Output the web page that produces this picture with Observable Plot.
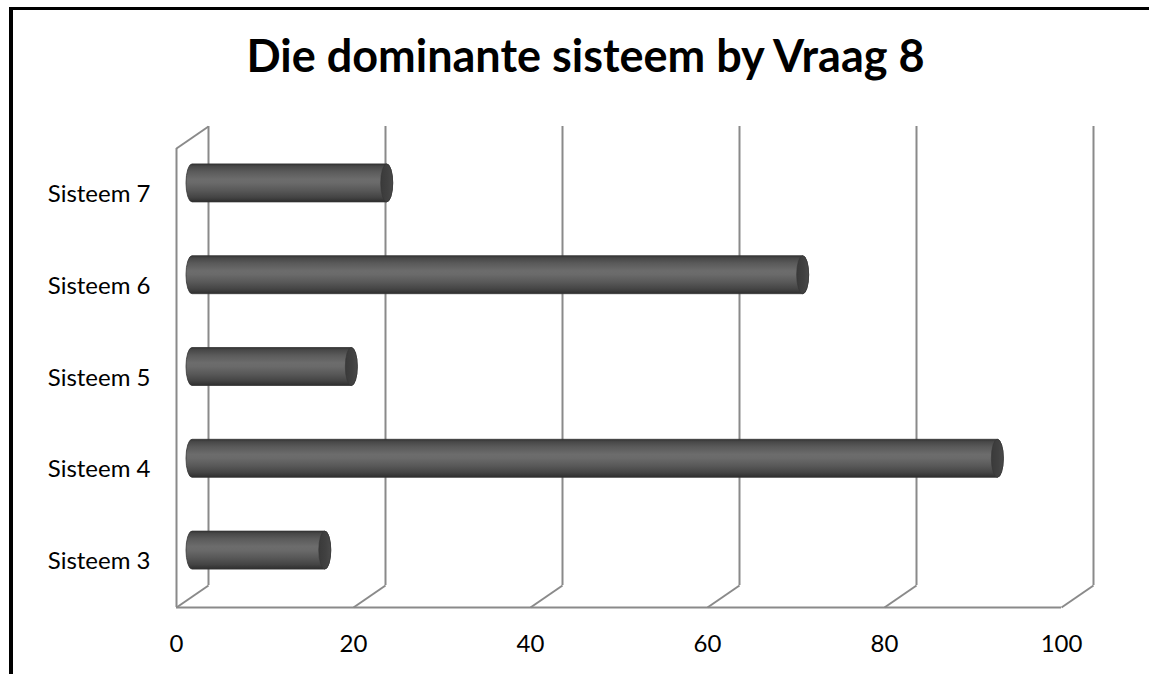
<!DOCTYPE html>
<html>
<head>
<meta charset="utf-8">
<script src="https://cdn.jsdelivr.net/npm/d3@7"></script>
<script src="https://cdn.jsdelivr.net/npm/@observablehq/plot@0.6"></script>
<style>
  html, body { margin: 0; padding: 0; background: #fff; }
  #wrap { position: relative; width: 1149px; height: 674px; overflow: hidden; background: #fff; font-family: Lato, "Open Sans", sans-serif; }
  #frame { position: absolute; left: 9px; top: 7px; width: 2000px; height: 2000px; border-left: 4px solid #000; border-top: 3px solid #000; box-sizing: border-box; }
  #title { position: absolute; left: 11px; top: 33px; width: 1149px; text-align: center; font-family: Lato, "Open Sans", sans-serif; font-weight: bold; font-size: 45px; line-height: 45px; color: #000; white-space: nowrap; }
  #chart { position: absolute; left: 0; top: 100px; }
</style>
</head>
<body>
<div id="wrap">
  <div id="frame"></div>
  <div id="title">Die dominante sisteem by Vraag 8</div>
  <div id="chart"></div>
</div>
<script>
// ---- data ----
const categories = ["Sisteem 3", "Sisteem 4", "Sisteem 5", "Sisteem 6", "Sisteem 7"];
const values = [15, 91, 18, 69, 22];
const xTicks = [0, 20, 40, 60, 80, 100];

// ---- layout ----
const W = 1149, H = 574;
const mL = 176, mR = 88, mT = 48, mB = 67;
const DEPTH_X = 32, DEPTH_Y = 22;      // 3D depth offset in px
const BAR_PX = 38, CAP_RX = 6;
const pxX = (W - mL - mR) / 100;
const pxY = (H - mT - mB) / categories.length;
const depthXu = DEPTH_X / pxX, depthYu = DEPTH_Y / pxY;
const halfBar = (BAR_PX / 2) / pxY;

const rows = categories.map((c, i) => ({category: c, value: values[i], i}));
const gridColor = "#8a8a8a";

const chart = Plot.plot({
  width: W, height: H,
  marginLeft: mL, marginRight: mR, marginTop: mT, marginBottom: mB,
  style: {fontFamily: "Lato, 'Open Sans', sans-serif", fontSize: "24px", color: "#000", background: "transparent"},
  x: {domain: [0, 100], ticks: xTicks, tickSize: 0, tickPadding: 27, label: null},
  y: {domain: [0, categories.length], ticks: categories.map((c, i) => i + 0.5),
      tickFormat: v => categories[Math.floor(v)], tickSize: 0, tickPadding: 26, label: null},
  marks: [
    // back wall gridlines
    Plot.ruleX(xTicks, {x: d => d, y1: 0, y2: categories.length, dx: DEPTH_X, dy: -DEPTH_Y, stroke: gridColor, strokeWidth: 2}),
    // floor front edge
    Plot.ruleY([0], {x1: 0, x2: 100, stroke: gridColor, strokeWidth: 2}),
    // floor diagonals
    Plot.link(xTicks, {x1: d => d, y1: 0, x2: d => d + depthXu, y2: depthYu, stroke: gridColor, strokeWidth: 2}),
    // left wall front edge + top diagonal
    Plot.ruleX([0], {y1: 0, y2: categories.length, stroke: gridColor, strokeWidth: 2}),
    Plot.link([0], {x1: 0, y1: categories.length, x2: depthXu, y2: categories.length + depthYu, stroke: gridColor, strokeWidth: 2}),
    // cylinder bodies
    Plot.rect(rows, {x1: 0, x2: "value", y1: d => d.i + 0.5 - halfBar, y2: d => d.i + 0.5 + halfBar,
      insetLeft: -CAP_RX, insetRight: -CAP_RX, rx: CAP_RX, ry: BAR_PX / 2,
      dx: DEPTH_X / 2, dy: -DEPTH_Y / 2, fill: "url(#cyl)", stroke: "#353535", strokeWidth: 0.8}),
    // cylinder end caps
    Plot.rect(rows, {x1: "value", x2: "value", y1: d => d.i + 0.5 - halfBar, y2: d => d.i + 0.5 + halfBar,
      insetLeft: -CAP_RX, insetRight: -CAP_RX, rx: CAP_RX, ry: BAR_PX / 2,
      dx: DEPTH_X / 2, dy: -DEPTH_Y / 2, fill: "url(#cap)", stroke: "#353535", strokeWidth: 0.6})
  ]
});

const svg = d3.select(chart);
const defs = svg.insert("defs", ":first-child");
const g1 = defs.append("linearGradient").attr("id", "cyl").attr("x1", 0).attr("y1", 0).attr("x2", 0).attr("y2", 1);
[[0, "#333333"], [0.06, "#474747"], [0.2, "#5a5a5a"], [0.4, "#6c6c6c"], [0.5, "#6a6a6a"], [0.7, "#585858"], [0.88, "#444444"], [1, "#2e2e2e"]]
  .forEach(([o, c]) => g1.append("stop").attr("offset", o).attr("stop-color", c));
const g2 = defs.append("linearGradient").attr("id", "cap").attr("x1", 0).attr("y1", 0).attr("x2", 1).attr("y2", 0);
[[0, "#3a3a3a"], [0.6, "#414141"], [1, "#4a4a4a"]]
  .forEach(([o, c]) => g2.append("stop").attr("offset", o).attr("stop-color", c));

document.getElementById("chart").appendChild(chart);
</script>
</body>
</html>
